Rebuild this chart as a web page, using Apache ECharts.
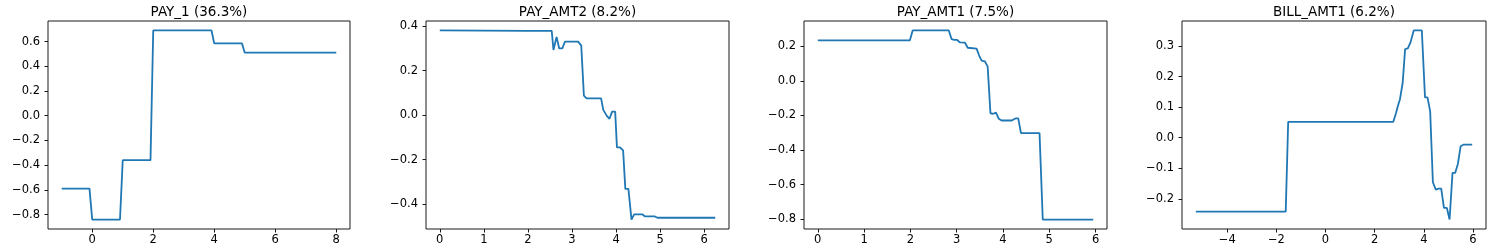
<!DOCTYPE html>
<html>
<head>
<meta charset="utf-8">
<script src="https://cdn.jsdelivr.net/npm/echarts@6/dist/echarts.min.js"></script>
<style>
html,body{margin:0;padding:0;background:#fff;}
#chart{width:1495px;height:252px;}
</style>
</head>
<body>
<div id="chart"></div>
<script>
// ---- Data ----
const titles = ['PAY_1 (36.3%)', 'PAY_AMT2 (8.2%)', 'PAY_AMT1 (7.5%)', 'BILL_AMT1 (6.2%)'];

const pay1X = [-1, -0.09, 0, 0.91, 1.0, 1.91, 2.0, 3.91, 4.0, 4.91, 5.0, 8.0];
const pay1Y = [-0.59, -0.59, -0.84, -0.84, -0.36, -0.36, 0.69, 0.69, 0.585, 0.585, 0.51, 0.51];

const payAmt2X = [0, 2.0, 2.54, 2.58, 2.65, 2.71, 2.78, 2.84, 3.14, 3.21, 3.27, 3.33, 3.66, 3.71, 3.79, 3.85, 3.91, 3.98, 4.02, 4.09, 4.16, 4.21, 4.28, 4.35, 4.41, 4.60, 4.66, 4.88, 4.94, 6.25];
const payAmt2Y = [0.381, 0.379, 0.379, 0.293, 0.352, 0.300, 0.300, 0.331, 0.331, 0.313, 0.088, 0.076, 0.076, 0.024, -0.003, -0.016, 0.016, 0.016, -0.145, -0.145, -0.158, -0.331, -0.331, -0.469, -0.446, -0.446, -0.455, -0.455, -0.461, -0.461];

const payAmt1X = [0, 1.99, 2.05, 2.83, 2.89, 2.95, 3.01, 3.07, 3.18, 3.24, 3.43, 3.49, 3.54, 3.61, 3.67, 3.73, 3.79, 3.85, 3.91, 3.97, 4.19, 4.27, 4.33, 4.39, 4.79, 4.86, 5.95];
const payAmt1Y = [0.235, 0.235, 0.292, 0.292, 0.242, 0.237, 0.237, 0.223, 0.221, 0.192, 0.187, 0.144, 0.117, 0.113, 0.083, -0.187, -0.190, -0.183, -0.219, -0.229, -0.229, -0.217, -0.217, -0.302, -0.302, -0.802, -0.802];

const billAmt1X = [-5.28, -1.62, -1.52, 2.76, 2.87, 2.94, 3.03, 3.14, 3.24, 3.35, 3.46, 3.59, 3.92, 4.05, 4.15, 4.26, 4.37, 4.49, 4.60, 4.71, 4.82, 4.94, 5.05, 5.17, 5.28, 5.39, 5.50, 5.61, 5.97];
const billAmt1Y = [-0.242, -0.242, 0.052, 0.052, 0.081, 0.102, 0.126, 0.179, 0.290, 0.292, 0.312, 0.351, 0.351, 0.132, 0.132, 0.086, -0.146, -0.170, -0.167, -0.167, -0.230, -0.230, -0.268, -0.115, -0.115, -0.085, -0.028, -0.023, -0.023];

const xTicks = [
  [0, 2, 4, 6, 8],
  [0, 1, 2, 3, 4, 5, 6],
  [0, 1, 2, 3, 4, 5, 6],
  [-4, -2, 0, 2, 4, 6]
];
const yTicks = [
  [-0.8, -0.6, -0.4, -0.2, 0.0, 0.2, 0.4, 0.6],
  [-0.4, -0.2, 0.0, 0.2, 0.4],
  [-0.8, -0.6, -0.4, -0.2, 0.0, 0.2],
  [-0.2, -0.1, 0.0, 0.1, 0.2, 0.3]
];

// ---- Build chart ----
const seriesX = [pay1X, payAmt2X, payAmt1X, billAmt1X];
const seriesY = [pay1Y, payAmt2Y, payAmt1Y, billAmt1Y];
const gridBoxes = [
  {left: 48, width: 302},
  {left: 426, width: 303},
  {left: 804, width: 303},
  {left: 1182, width: 304}
];
const TOP = 21, HEIGHT = 208;
const FONT = 'DejaVu Sans';

function pad(arr) {
  const mn = Math.min(...arr), mx = Math.max(...arr);
  const m = (mx - mn) * 0.05;
  return [mn - m, mx + m];
}
function fmt(v, dec) {
  const s = Math.abs(v) < 1e-9 ? (0).toFixed(dec) : v.toFixed(dec);
  return s.replace('-', '\u2212');
}

const grid = [], xAxis = [], yAxis = [], series = [], title = [];
for (let i = 0; i < 4; i++) {
  const g = gridBoxes[i];
  grid.push({left: g.left, width: g.width, top: TOP, height: HEIGHT,
    show: true, borderColor: '#1a1a1a', borderWidth: 1, backgroundColor: 'transparent', containLabel: false});
  const xr = pad(seriesX[i]), yr = pad(seriesY[i]);
  const tickStyle = {show: true, inside: false, length: 3.5, lineStyle: {color: '#1a1a1a', width: 1}};
  xAxis.push({
    type: 'value', gridIndex: i, min: xr[0], max: xr[1], position: 'bottom',
    axisLine: {show: false, onZero: false},
    splitLine: {show: false},
    axisTick: Object.assign({}, tickStyle, {customValues: xTicks[i]}),
    axisLabel: {customValues: xTicks[i], formatter: v => fmt(v, 0), color: '#000', fontFamily: FONT, fontSize: 11.5, margin: 5}
  });
  yAxis.push({
    type: 'value', gridIndex: i, min: yr[0], max: yr[1], position: 'left',
    axisLine: {show: false, onZero: false},
    splitLine: {show: false},
    axisTick: Object.assign({}, tickStyle, {customValues: yTicks[i]}),
    axisLabel: {customValues: yTicks[i], formatter: v => fmt(v, 1), color: '#000', fontFamily: FONT, fontSize: 11.5, margin: 8}
  });
  series.push({
    type: 'line', xAxisIndex: i, yAxisIndex: i,
    data: seriesX[i].map((x, k) => [x, seriesY[i][k]]),
    showSymbol: false, symbol: 'none',
    lineStyle: {color: '#1f77b4', width: 1.8},
    animation: false
  });
  title.push({
    text: titles[i], left: g.left + g.width / 2, top: 5, textAlign: 'center', padding: 0,
    textStyle: {fontFamily: FONT, fontSize: 13.5, fontWeight: 'normal', color: '#000'}
  });
}

const chart = echarts.init(document.getElementById('chart'), null, {renderer: 'canvas'});
chart.setOption({animation: false, backgroundColor: '#fff', title, grid, xAxis, yAxis, series});
</script>
</body>
</html>
